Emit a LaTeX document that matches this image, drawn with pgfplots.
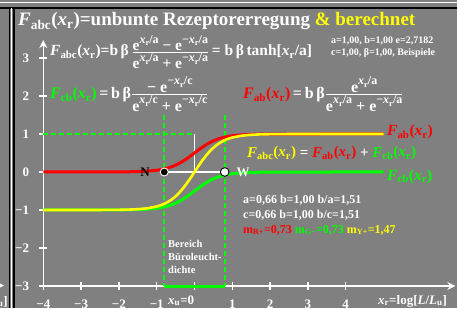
\documentclass[border=0pt]{standalone}
\usepackage{amsmath}
\usepackage{pgfplots}
\pgfplotsset{compat=1.18}
\usepackage{pgfplotstable}
\usepackage{fontspec}
\setmainfont{Liberation Serif}
\usetikzlibrary{arrows.meta}
\definecolor{bg}{RGB}{128,128,128}
\definecolor{gr}{RGB}{0,255,0}
\definecolor{rd}{RGB}{255,0,0}
\definecolor{ye}{RGB}{255,255,0}
\newcommand\Fs[1]{\textit{F}\textsubscript{#1}}
\newcommand\xr{\textit{x}\textsubscript{r}}
\newcommand\xrs{\textit{x}\raisebox{-0.22em}{\fontsize{8.5}{8.5}\selectfont r}}
\newcommand\ex[1]{e\raisebox{0.45em}{\fontsize{12}{12}\selectfont #1}}
\newcommand\fr[2]{$\genfrac{}{}{0.9pt}{}{\hbox{#1}}{\hbox{#2}}$}
\newcommand\fs[1]{\fontsize{#1}{#1}\selectfont\bfseries}
\begin{document}
\pgfplotstableread{
x R G Y
-4 0.0000 -1.0000 -1.0000
-3 0.0001 -0.9999 -0.9998
-2.5 0.0005 -0.9995 -0.9990
-2 0.0023 -0.9977 -0.9953
-1.75 0.0050 -0.9950 -0.9901
-1.5 0.0105 -0.9895 -0.9790
-1.25 0.0221 -0.9779 -0.9557
-1 0.0461 -0.9539 -0.9078
-0.9 0.0614 -0.9386 -0.8772
-0.8 0.0814 -0.9186 -0.8372
-0.7 0.1071 -0.8929 -0.7858
-0.6 0.1396 -0.8604 -0.7208
-0.5 0.1802 -0.8198 -0.6396
-0.4 0.2293 -0.7707 -0.5414
-0.3 0.2872 -0.7128 -0.4256
-0.2 0.3529 -0.6471 -0.2942
-0.1 0.4248 -0.5752 -0.1504
0 0.5000 -0.5000 0.0000
0.1 0.5752 -0.4248 0.1504
0.2 0.6471 -0.3529 0.2942
0.3 0.7128 -0.2872 0.4256
0.4 0.7707 -0.2293 0.5414
0.5 0.8198 -0.1802 0.6396
0.6 0.8604 -0.1396 0.7208
0.7 0.8929 -0.1071 0.7858
0.8 0.9186 -0.0814 0.8372
0.9 0.9386 -0.0614 0.8772
1 0.9539 -0.0461 0.9078
1.25 0.9779 -0.0221 0.9557
1.5 0.9895 -0.0105 0.9790
1.75 0.9950 -0.0050 0.9901
2 0.9977 -0.0023 0.9953
2.5 0.9995 -0.0005 0.9990
3 0.9999 -0.0001 0.9998
4 1.0000 0.0000 1.0000
5 1.0000 0.0000 1.0000
}\data
\begin{tikzpicture}
\begin{scope}[x=1pt,y=-1pt,shift={(-43.3pt,286pt)}]
\fill[bg] (0,0) rectangle (457,308);
\draw[white, line width=1.2pt] (0,2.2) -- (457,2.2);
\draw[black, line width=2pt] (0,8) -- (457,8);
\draw[black, line width=1.3pt] (9.8,8) -- (9.8,308);
\draw[white, line width=1.3pt] (11.6,8) -- (11.6,308);
\draw[black, line width=2pt] (14,8) -- (14,308);
\begin{scope}
\clip (0,9) rectangle (9.1,308);
\draw[white, line width=1.2pt, -{Stealth[length=5pt,width=5pt]}] (-20,285.5) -- (4,285.5);
\node[anchor=base east, inner sep=0, text=white] at (8,305) {\fs{13}\textit{L}\textsubscript{u}]};
\end{scope}
\end{scope}
\begin{axis}[
  x=37.8pt, y=38pt,
  xmin=-4, xmax=6.9, ymin=-3, ymax=3.47,
  enlargelimits=false,
  axis lines=left,
  axis line style={white, line width=1.4pt, -{Stealth[length=8pt,width=8pt]}},
  xtick={-4,-3,-2,-1,0,1,2,3,4},
  xticklabels={−4,−3,−2,−1,,1,2,3,4},
  ytick={-3,-2,-1,0,1,2,3},
  yticklabels={−3,−2,−1,0,1,2,3},
  tick style={white, line width=1.4pt},
  major tick length=8pt,
  tick align=center,
  ticklabel style={font=\fs{13}, text=white, inner sep=0pt},
  xticklabel style={anchor=base, yshift=-18pt},
  yticklabel style={anchor=east, xshift=-10pt},
  clip=false,
]
\addplot[gr, line width=1.6pt, dash pattern=on 5pt off 3pt, forget plot] coordinates {(-4,1) (0,1)};
\addplot[gr, line width=1.6pt, dash pattern=on 5pt off 3pt, forget plot] coordinates {(-0.8,1.5) (-0.8,-3)};
\addplot[gr, line width=1.6pt, dash pattern=on 5pt off 3pt, forget plot] coordinates {(0.8,1.5) (0.8,-3)};
\addplot[gr, line width=3pt, forget plot] coordinates {(-0.8,-3) (0.8,-3)};
\addplot[white, line width=1.3pt, forget plot] coordinates {(-0.8,0) (0.8,0)};
\addplot[white, line width=1.3pt, forget plot] coordinates {(0,0) (0,1)};
\addplot[rd, line width=3pt, no markers, line join=round] table[x=x, y=R] {\data};
\addplot[gr, line width=3pt, no markers, line join=round] table[x=x, y=G] {\data};
\addplot[ye, line width=2.6pt, no markers, line join=round] table[x=x, y=Y] {\data};
\addplot[only marks, mark=*, mark size=4pt, mark options={fill=black, draw=white, line width=0.9pt}] coordinates {(-0.8,0)};
\addplot[only marks, mark=*, mark size=4.3pt, mark options={fill=white, draw=black, line width=0.9pt}] coordinates {(0.8,0)};
\end{axis}
\begin{scope}[x=1pt,y=-1pt,shift={(-43.3pt,286pt)}]
\tikzset{every node/.style={inner sep=0pt, text=white}}
\node[anchor=base west] at (18,26) {\fs{19}\Fs{abc}(\xr)=unbunte Rezeptorerregung \textcolor{ye}{\& berechnet}};
\node[anchor=base west] at (50,56) {\fs{15.5}\Fs{abc}(\xr)=b\,β\,\fr{\ex{\xrs/a} − \ex{−\xrs/a}}{\ex{\xrs/a} + \ex{−\xrs/a}}\,= b\,β\,tanh[\xr/a]};
\node[anchor=base west] at (331,44) {\fs{10}a=1,00, b=1,00 e=2,7182};
\node[anchor=base west] at (331,56) {\fs{10}c=1,00, β=1,00, Beispiele};
\node[anchor=base west] at (50,99) {\fs{16}\textcolor{gr}{\Fs{cb}(\xr)}\,=\,b\,β\fr{− \ex{−\xrs/c}}{\ex{\xrs/c} + \ex{−\xrs/c}}};
\node[anchor=base west] at (243,99) {\fs{16}\textcolor{rd}{\Fs{ab}(\xr)}\,=\,b\,β\fr{\ex{\xrs/a}}{\ex{\xrs/a} + \ex{−\xrs/a}}};
\node[anchor=base west] at (387,136) {\fs{15.5}\textcolor{rd}{\Fs{ab}(\xr)}};
\node[anchor=base west] at (387,180) {\fs{15.5}\textcolor{gr}{\Fs{cb}(\xr)}};
\node[anchor=base west] at (247,157) {\fs{15}\textcolor{ye}{\Fs{abc}(\xr)} = \textcolor{rd}{\Fs{ab}(\xr)} + \textcolor{gr}{\Fs{cb}(\xr)}};
\node[text=black] at (145,172) {\fs{13}N};
\node at (243,172) {\fs{13}W};
\node[anchor=base west] at (243,203) {\fs{12}a=0,66 b=1,00 b/a=1,51};
\node[anchor=base west] at (243,218) {\fs{12}c=0,66 b=1,00 b/c=1,51};
\node[anchor=base west] at (243,233) {\fs{12}\textcolor{rd}{m\textsubscript{R+}=0,73} \textcolor{gr}{m\textsubscript{G−}=0,73} \textcolor{ye}{m\textsubscript{Y+}=1,47}};
\node[anchor=base west] at (168,247) {\fs{10.5}Bereich};
\node[anchor=base west] at (168,260) {\fs{10.5}Büroleucht-};
\node[anchor=base west] at (168,273) {\fs{10.5}dichte};
\node[anchor=base west] at (168,304) {\fs{13}\textit{x}\textsubscript{u}=0};
\node[anchor=base west] at (378,304) {\fs{13}\textit{x}\textsubscript{r}=log[\textit{L}/\textit{L}\textsubscript{u}]};
\end{scope}
\pgfresetboundingbox
\path[use as bounding box] (-43.3pt,-22pt) rectangle (413.7pt,286pt);
\end{tikzpicture}
\end{document}
